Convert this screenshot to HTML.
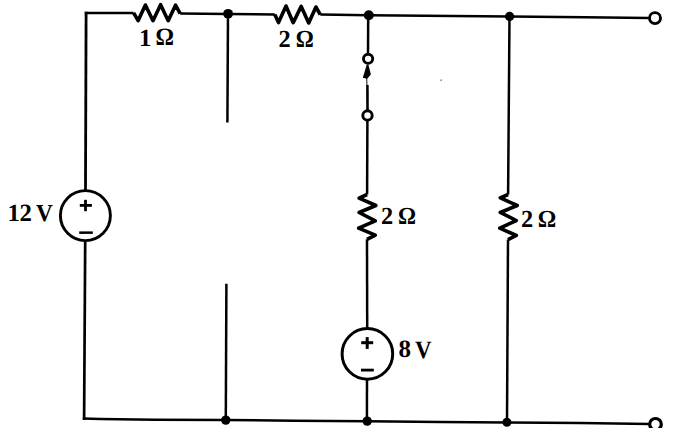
<!DOCTYPE html>
<html><head><meta charset="utf-8">
<style>
html,body{margin:0;padding:0;background:#fff;}
body{width:689px;height:428px;overflow:hidden;}
svg{display:block;}
text{font-family:"Liberation Serif",serif;font-weight:bold;fill:#000;stroke:none;text-rendering:geometricPrecision;}
</style></head>
<body>
<svg width="689" height="428" viewBox="0 0 689 428">
<g fill="none" stroke="#000" stroke-width="2.5" stroke-linecap="butt" stroke-linejoin="round">
  <!-- top wire -->
  <polyline points="84.8,12.9 110,12.9 133.6,12.9"/>
  <polyline points="133.6,12.9 138.1,20.7 145.4,5 153,20.7 160.6,4.7 168.2,20.7 175.5,5.2 180.2,13.6" stroke-width="3.6"/>
  <polyline points="180.2,13.6 228,13.9 274.8,14.5"/>
  <polyline points="274.8,14.5 278.5,22.6 286,6 293.2,22.7 301.2,6.4 308.7,23 315.9,7 320.3,14.6" stroke-width="3.6"/>
  <polyline points="320.3,14.6 368.6,15.3 509.7,16.5 585,17.3 649,18"/>
  <!-- left vertical with 12V source -->
  <line x1="86.1" y1="11.7" x2="85.5" y2="190" stroke-width="2.8"/>
  <line x1="85.2" y1="242" x2="84.1" y2="420" stroke-width="2.7"/>
  <!-- bottom wire -->
  <polyline points="82.8,418.6 100,419 155,419.7 226,420 295,420.8 367,421.2 440,421.9 507,422.4 580,423.1 650,424.1"/>
  <!-- x=228 branch -->
  <line x1="228" y1="14" x2="227.4" y2="122.6"/>
  <line x1="226.4" y1="283.8" x2="225.8" y2="420"/>
  <!-- middle branch -->
  <line x1="368.2" y1="15" x2="368" y2="54"/>
  <line x1="367.4" y1="120" x2="367.1" y2="194.6"/>
  <polyline points="367.1,194.5 359.1,198.2 375.9,205.5 359.1,212.5 375.3,220.9 358.6,228.2 375.3,235.1 367,239.4" stroke-width="3.6"/>
  <line x1="367" y1="239.3" x2="367.2" y2="328"/>
  <line x1="367" y1="379" x2="366.9" y2="421"/>
  <line x1="366.6" y1="78" x2="367" y2="86" stroke-width="1.4" stroke="#555"/>
  <line x1="367.4" y1="85" x2="367.5" y2="110" stroke-width="2.6"/>
  <!-- right branch -->
  <line x1="509.5" y1="16" x2="508.1" y2="194.6"/>
  <polyline points="508.1,194.5 500.3,197.9 517.2,205.5 500.3,212.5 516.3,220.5 499.8,228.2 516.3,235.5 508,239.6" stroke-width="3.6"/>
  <line x1="508" y1="239.5" x2="507" y2="422"/>
  <!-- sources -->
  <circle cx="85.4" cy="215.6" r="25" stroke-width="2.9"/>
  <circle cx="367.4" cy="353.9" r="25.3" stroke-width="3"/>
  <!-- switch terminals -->
  <circle cx="368.1" cy="58.8" r="4.6" stroke-width="2.9"/>
  <circle cx="367.5" cy="115.5" r="4.7" stroke-width="2.9"/>
  <!-- output terminals -->
  <circle cx="655" cy="18.1" r="5.5" stroke-width="2.9"/>
  <circle cx="655.5" cy="424.3" r="5.8" stroke-width="3.2"/>
</g>
<g fill="#000" stroke="none">
  <!-- junction dots -->
  <circle cx="228.1" cy="13.8" r="4.9"/>
  <circle cx="368.8" cy="15.3" r="5"/>
  <circle cx="509.6" cy="16.4" r="4.6"/>
  <circle cx="225.8" cy="420.1" r="4.7"/>
  <circle cx="367.2" cy="421.1" r="4.7"/>
  <circle cx="506.9" cy="422.3" r="4.5"/>
  <circle cx="441.2" cy="80.2" r="0.9" fill="#888"/>
  <!-- switch arrow -->
  <polygon points="366.8,64.5 368.4,64.5 370.9,74.6 367.2,78.8 362.8,77.8"/>
  <!-- plus/minus signs -->
  <rect x="79.8" y="204" width="12.1" height="2.8"/>
  <rect x="84.1" y="199.8" width="2.8" height="11.4"/>
  <rect x="79.2" y="231.4" width="13.6" height="2.5"/>
  <rect x="361.2" y="341.2" width="12" height="3"/>
  <rect x="365.7" y="337.1" width="3" height="11.8"/>
  <rect x="361" y="368.7" width="12.8" height="2.8"/>
</g>
<!-- labels -->
<text x="7.6" y="220.7" font-size="24.8">1</text>
<text x="19.5" y="220.7" font-size="24.8">2</text>
<text transform="translate(36.0,220.9) scale(0.954,1)" font-size="24.4">V</text>
<text x="139.0" y="45.5" font-size="24.8">1</text>
<text transform="translate(155.4,45.3) scale(0.924,1)" font-size="25">Ω</text>
<text x="278.6" y="46.7" font-size="24.4">2</text>
<text transform="translate(295.8,46.6) scale(0.916,1)" font-size="24.6">Ω</text>
<text x="381.0" y="223.7" font-size="24.4">2</text>
<text transform="translate(398.0,223.8) scale(0.924,1)" font-size="24.4">Ω</text>
<text x="521.0" y="227.4" font-size="24.4">2</text>
<text transform="translate(537.7,227.4) scale(0.947,1)" font-size="24.4">Ω</text>
<text x="398.4" y="357.0" font-size="25">8</text>
<text transform="translate(414.9,357.5) scale(0.92,1)" font-size="25">V</text>
</svg>
</body></html>
